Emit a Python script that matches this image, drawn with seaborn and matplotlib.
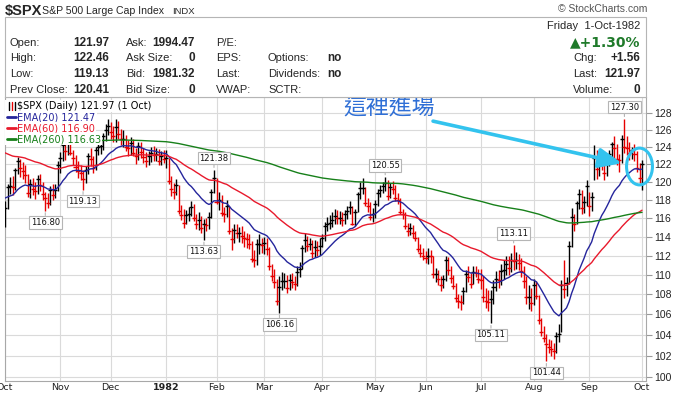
import numpy as np
import pandas as pd
import matplotlib
matplotlib.use("Agg")
import matplotlib.pyplot as plt
from matplotlib.path import Path
from matplotlib.transforms import Affine2D
from matplotlib.patches import Rectangle
from matplotlib.lines import Line2D
from matplotlib.ticker import FixedLocator, NullLocator, FuncFormatter
import seaborn as sns

# --- data ----------------------------------------------------------------
market_holidays = ["1981-11-26", "1981-12-25", "1982-01-01", "1982-02-15",
                   "1982-04-09", "1982-05-31", "1982-07-05", "1982-09-06"]

closes = [
    117.1, 119.4, 119.5, 119.4, 121.3, 122.3, 121.5, 121.2, 120.8, 118.8, 119.7, 119.2, 119.0, 120.3, 119.6, 118.6, 118.2, 117.6, 119.1, 118.5, 119.1, 121.9,  # Oct
    122.7, 124.2, 123.5, 124.8, 123.3, 122.7, 121.7, 121.2, 121.0, 120.3, 121.3, 122.9, 122.6, 121.6, 123.6, 124.0, 124.1, 125.2, 126.0, 126.4,  # Nov
    125.7, 125.2, 126.3, 125.5, 124.9, 124.9, 124.0, 123.8, 124.4, 123.3, 122.9, 124.1, 123.4, 122.8, 122.4, 122.9, 123.3, 123.0, 123.1, 122.3, 122.9, 122.6,  # Dec
    122.7, 120.1, 119.2, 118.9, 119.6, 116.8, 116.3, 115.5, 116.3, 116.4, 117.2, 116.0, 115.3, 115.8, 114.9, 115.4, 115.2, 116.1, 118.9, 120.4,  # Jan
    117.8, 118.0, 116.5, 116.4, 117.3, 114.6, 113.7, 114.7, 114.4, 114.4, 114.1, 113.8, 113.7, 113.2, 111.6, 111.5, 113.2, 113.2, 113.1,  # Feb
    113.3, 112.7, 110.9, 109.9, 109.3, 107.3, 108.8, 109.4, 109.4, 108.6, 109.5, 109.3, 109.1, 110.3, 110.6, 112.8, 113.6, 113.0, 113.2, 112.3, 112.9, 112.6, 113.0,  # Mar
    113.8, 115.1, 115.4, 115.5, 115.8, 116.2, 116.0, 116.0, 115.8, 116.4, 116.8, 117.2, 115.4, 116.7, 118.6, 119.3, 119.3, 117.6, 117.3, 116.1, 116.4,  # Apr
    117.5, 118.7, 119.1, 119.5, 119.9, 118.4, 119.4, 119.2, 118.2, 118.0, 116.7, 116.4, 115.1, 114.6, 114.9, 114.4, 113.9, 112.7, 112.3, 111.9,  # May
    111.7, 112.0, 111.9, 110.1, 110.1, 109.6, 109.0, 109.6, 111.5, 110.5, 109.7, 108.9, 107.6, 107.3, 107.2, 108.3, 110.1, 109.8, 109.1, 110.3, 110.2, 109.6,  # Jun
    109.5, 107.7, 107.3, 107.2, 107.5, 108.8, 109.6, 109.5, 110.4, 110.5, 111.1, 110.7, 111.5, 111.4, 111.5, 111.2, 110.4, 109.4, 107.7, 107.7, 107.1,  # Jul
    109.0, 107.8, 105.4, 104.3, 103.7, 103.1, 102.8, 102.6, 102.4, 103.9, 104.1, 109.0, 108.5, 109.2, 113.0, 116.1, 115.3, 117.6, 118.6, 117.1, 117.7, 119.5,  # Aug
    117.3, 118.3, 122.7, 121.4, 122.2, 122.0, 121.0, 122.2, 123.1, 124.3, 123.8, 122.6, 122.5, 124.9, 124.0, 123.8, 123.3, 123.6, 123.2, 121.6, 120.41,  # Sep
    121.97,  # 1 Oct
]
highs = [
    117.9, 119.8, 120.5, 120.6, 121.6, 122.8, 122.6, 122.2, 121.9, 120.9, 120.3, 120.4, 120.0, 120.8, 120.9, 120.0, 118.9, 118.7, 119.5, 119.8, 119.8, 122.3,
    123.4, 124.9, 124.8, 125.2, 125.0, 123.6, 123.0, 122.3, 121.9, 121.3, 121.8, 123.3, 123.9, 122.9, 124.0, 124.6, 124.9, 125.6, 126.7, 127.3,
    126.9, 126.4, 127.3, 127.0, 126.1, 125.9, 125.4, 124.8, 125.1, 124.9, 123.9, 124.5, 124.6, 123.9, 123.4, 123.5, 124.0, 124.1, 123.9, 123.7, 123.5, 123.6,
    123.6, 122.7, 120.6, 119.9, 120.3, 119.6, 117.4, 117.0, 116.9, 117.2, 117.9, 117.5, 116.4, 116.6, 116.2, 115.9, 116.0, 116.7, 119.2, 121.38,
    120.4, 118.9, 118.5, 117.2, 118.0, 117.3, 114.9, 115.3, 115.3, 115.0, 115.1, 114.6, 114.4, 114.3, 113.5, 112.6, 113.7, 114.3, 113.9,
    114.0, 113.9, 112.9, 111.1, 110.6, 109.6, 109.9, 110.3, 110.2, 110.0, 110.1, 110.2, 109.9, 110.9, 111.3, 113.1, 114.4, 114.1, 113.9, 113.6, 113.6, 113.5, 113.9,
    114.3, 115.6, 116.1, 116.3, 116.6, 117.0, 116.9, 116.8, 116.7, 116.9, 117.3, 117.9, 117.3, 117.0, 118.9, 120.0, 120.4, 119.4, 118.2, 117.8, 117.1,
    118.0, 119.2, 119.6, 120.0, 120.55, 120.2, 119.9, 120.1, 119.6, 118.7, 118.2, 117.0, 116.7, 115.5, 115.5, 115.2, 114.6, 114.0, 113.2, 112.8,
    112.5, 112.8, 112.6, 112.0, 110.7, 110.5, 109.9, 110.0, 111.9, 111.8, 110.9, 110.0, 109.2, 108.0, 107.9, 108.8, 110.5, 110.9, 110.2, 110.9, 110.9, 110.6,
    110.6, 109.9, 108.6, 108.4, 108.4, 109.5, 110.4, 110.5, 111.1, 111.5, 111.9, 111.9, 112.3, 113.11, 112.4, 112.2, 111.7, 110.9, 109.9, 109.0, 108.6,
    109.6, 109.4, 107.9, 105.6, 104.9, 104.1, 103.6, 103.5, 103.2, 104.3, 105.1, 109.5, 111.5, 109.8, 113.5, 117.1, 116.4, 117.9, 119.2, 119.1, 118.4, 120.2,
    118.9, 118.9, 124.2, 123.6, 122.8, 123.1, 122.6, 122.7, 123.6, 124.6, 125.3, 124.3, 123.1, 125.4, 127.30, 125.2, 124.5, 124.0, 124.3, 123.5, 122.1,
    122.46,
]
lows = [
    115.0, 117.0, 118.6, 118.5, 119.1, 120.9, 120.5, 120.3, 119.9, 118.3, 118.2, 118.5, 118.1, 118.6, 119.0, 118.0, 116.8, 117.1, 117.4, 118.0, 118.2, 119.0,
    121.0, 122.3, 122.5, 123.0, 123.0, 121.9, 121.1, 120.4, 120.2, 119.13, 119.9, 120.9, 121.8, 121.0, 121.3, 123.0, 123.2, 123.6, 124.7, 125.4,
    124.9, 124.5, 124.6, 124.9, 124.2, 124.0, 123.5, 122.9, 123.0, 122.9, 122.0, 122.5, 122.7, 122.1, 121.7, 121.9, 122.2, 122.4, 122.3, 121.9, 121.9, 122.1,
    121.5, 119.7, 118.4, 118.1, 118.5, 116.4, 115.8, 114.9, 115.3, 115.7, 116.2, 115.7, 114.8, 114.7, 114.4, 113.63, 114.6, 114.8, 116.0, 118.7,
    117.5, 116.9, 116.2, 115.6, 116.1, 114.3, 112.6, 113.3, 113.8, 113.4, 113.3, 112.9, 112.8, 112.7, 111.3, 110.8, 111.0, 112.2, 112.3,
    112.2, 112.1, 110.5, 109.4, 108.6, 106.9, 106.16, 108.4, 108.6, 108.1, 108.4, 108.7, 108.4, 108.9, 109.8, 110.6, 112.4, 112.5, 112.6, 111.7, 111.8, 111.9, 112.1,
    112.9, 113.5, 114.6, 114.8, 115.0, 115.4, 115.4, 115.4, 115.1, 115.4, 115.9, 116.4, 115.2, 115.1, 116.6, 118.1, 118.6, 117.3, 116.6, 115.8, 115.6,
    116.0, 117.3, 118.3, 118.7, 119.0, 118.0, 118.2, 118.6, 117.9, 117.5, 116.4, 115.9, 114.8, 114.1, 114.2, 113.9, 113.5, 112.4, 111.8, 111.5,
    111.2, 111.1, 111.2, 109.7, 109.3, 109.0, 108.3, 108.6, 109.4, 110.0, 109.2, 108.5, 107.2, 106.6, 106.4, 107.0, 108.2, 109.3, 108.7, 109.1, 109.8, 109.2,
    108.5, 107.2, 106.6, 106.3, 105.11, 107.0, 108.3, 108.7, 109.0, 109.6, 110.0, 110.0, 110.3, 110.5, 110.6, 110.5, 109.8, 108.7, 107.0, 106.5, 106.3,
    106.9, 107.5, 105.1, 103.9, 103.3, 101.44, 102.2, 102.0, 101.7, 102.2, 103.3, 104.3, 107.6, 107.8, 109.1, 112.9, 114.6, 115.3, 117.0, 116.4, 116.5, 117.3,
    116.2, 116.8, 120.2, 120.3, 120.7, 121.3, 120.2, 120.6, 121.8, 122.6, 122.6, 121.9, 121.1, 122.1, 123.3, 123.0, 122.5, 122.6, 122.4, 121.1, 119.9,
    119.13,
]

ema_spans = [20, 60, 260]
ema_seeds = [118.3, 123.5, 126.0]          # indicator levels at the left edge
ema_colors = ["#25259c", "#e8192c", "#17801a"]
legend_rows = ["$SPX (Daily) 121.97 (1 Oct)", "EMA(20) 121.47", "EMA(60) 116.90", "EMA(260) 116.63"]

# bars that carry a price call-out, and whether it marks a high or a low
callout_idx = [16, 31, 79, 83, 109, 151, 193, 202, 215, 246]
callout_kind = ["low", "low", "low", "high", "low", "high", "low", "high", "low", "high"]

y_ticks = list(range(100, 130, 2))
note_text = "這裡進場"

BAR_RED = "#e60000"
CYAN = "#33c3ee"

# --- figure --------------------------------------------------------------
sns.set_style("white")
plt.rcParams["font.family"] = ["DejaVu Sans"]

W, H = 673, 395
fig = plt.figure(figsize=(W / 100, H / 100), dpi=100)
ax = fig.add_axes([4.7 / W, 1 - 381 / H, 641 / W, 284 / H])


def fx(px):
    return px / W


def fy(py):
    return 1 - py / H


days = pd.bdate_range("1981-10-01", "1982-10-01", freq="C", holidays=market_holidays)
xs = np.arange(len(days))
c = np.array(closes)
prev = np.r_[c[0], c[:-1]]
bar_colors = np.where(c >= prev, "black", BAR_RED)

# OHLC bars (open prints equal the close in this old data, so each bar is a cross)
ax.vlines(xs, lows, highs, colors=bar_colors, lw=1.0, zorder=3)
ax.hlines(c, xs - 0.8, xs + 0.8, colors=bar_colors, lw=1.0, zorder=3)

for span, seed, color in zip(ema_spans, ema_seeds, ema_colors):
    ema = pd.Series([seed] + closes).ewm(span=span, adjust=False).mean().iloc[1:].to_numpy()
    sns.lineplot(x=xs, y=ema, ax=ax, color=color, lw=1.0, zorder=4)

ax.set_yscale("log")
ax.set_ylim(99.6, 129.9)
ax.set_xlim(-0.12, 254.45)
ax.set_xlabel("")
ax.set_ylabel("")

ax.yaxis.set_major_locator(FixedLocator(y_ticks))
ax.yaxis.set_minor_locator(NullLocator())
ax.yaxis.set_major_formatter(FuncFormatter(lambda v, p: f"{v:.0f}"))
ax.yaxis.tick_right()

month_first = pd.Series(xs, index=days).groupby(days.to_period("M")).first()
ax.set_xticks(month_first.to_numpy())
month_labels = [p.strftime("%b") if p.month != 1 else str(p.year) for p in month_first.index]
ax.set_xticklabels(month_labels)
for lab, p in zip(ax.get_xticklabels(), month_first.index):
    if p.month == 1:
        lab.set_fontweight("bold")

ax.grid(True, color="#dadada", lw=0.8)
ax.set_axisbelow(True)
ax.tick_params(axis="x", length=1.5, pad=0.3, labelsize=6.8, color="#999999", labelcolor="#222222")
ax.tick_params(axis="y", length=4, pad=2, labelsize=7, color="#999999", labelcolor="#222222")
for lab in ax.get_yticklabels():
    lab.set_fontfamily("Liberation Sans")
    lab.set_fontsize(7.5)
for s in ax.spines.values():
    s.set_color("#a8a8a8")
    s.set_linewidth(0.8)

# price call-outs
for i, kind in zip(callout_idx, callout_kind):
    val = highs[i] if kind == "high" else lows[i]
    dy = 8.3 if kind == "high" else -8.3
    ax.annotate(f"{val:.2f}", xy=(i, val), xytext=(0, dy), textcoords="offset points",
                ha="center", va="center", fontsize=6, color="#111111",
                bbox=dict(boxstyle="square,pad=0.22", fc="white", ec="#b5b5b5", lw=0.8),
                arrowprops=dict(arrowstyle="-", color="#b5b5b5", lw=0.8, shrinkA=0, shrinkB=1.5),
                zorder=6)

# legend rows with white backing
row_py = [106, 117, 128, 139]
for k, (txt, py) in enumerate(zip(legend_rows, row_py)):
    yf = (381 - py) / 284
    tcolor = "black" if k == 0 else ema_colors[k - 1]
    ax.add_patch(Rectangle((0, yf - 0.02), 0.025, 0.04, transform=ax.transAxes,
                           fc="white", ec="none", zorder=7))
    ax.text(0.0195, yf, txt, transform=ax.transAxes, fontsize=7, color=tcolor,
            va="center", ha="left", zorder=7,
            bbox=dict(boxstyle="square,pad=0.12", fc="white", ec="none"))
    if k == 0:
        for xo, col in [(0.006, "black"), (0.011, BAR_RED), (0.016, "black")]:
            ax.add_line(Line2D([xo, xo], [yf - 0.013, yf + 0.013], transform=ax.transAxes,
                               color=col, lw=1.0, zorder=8))
    else:
        ax.add_line(Line2D([0.0035, 0.0175], [yf, yf], transform=ax.transAxes,
                           color=ema_colors[k - 1], lw=2.0, zorder=8))

# hand-drawn style note: text, arrow and ring around the last bars
ax.text(152.5, 128.55, note_text, fontsize=16.5, color="#2f6fd6", ha="center", va="center",
        family=["Noto Sans CJK TC", "DejaVu Sans"], zorder=9, clip_on=False)
ax.annotate("", xy=(245.0, 122.1), xytext=(170.0, 127.0),
            arrowprops=dict(arrowstyle="-|>,head_length=1.4,head_width=0.6", mutation_scale=10,
                            lw=2.6, color=CYAN, shrinkA=0, shrinkB=0),
            zorder=9, annotation_clip=False)
ring = Path.unit_circle().transformed(Affine2D().scale(1.0, 1.42))
ax.plot([251.8], [121.8], marker=ring, markersize=26.5, mfc="none", mec=CYAN, mew=2.2,
        zorder=9, clip_on=False)

# --- header block --------------------------------------------------------
fig.add_artist(Rectangle((fx(4.7), fy(97)), fx(645.7) - fx(4.7), fy(17) - fy(97),
                         transform=fig.transFigure, fc="white", ec="#b5b5b5", lw=0.8))

hdr = dict(family=["Liberation Sans", "DejaVu Sans"], va="center")
fig.text(fx(5), fy(11.5), "$SPX", fontsize=10.5, fontweight="bold", **hdr)
fig.text(fx(41.5), fy(11), "S&P 500 Large Cap Index", fontsize=7.6, **hdr)
fig.text(fx(172), fy(11), "INDX", fontsize=6.8, **hdr)
fig.text(fx(647), fy(8.7), "\u00a9 StockCharts.com", fontsize=7.5, color="#555555", ha="right", **hdr)

rows_y = [42.5, 58.3, 74.2, 90]
col1 = [("Open:", "121.97"), ("High:", "122.46"), ("Low:", "119.13"), ("Prev Close:", "120.41")]
col2 = [("Ask:", "1994.47"), ("Ask Size:", "0"), ("Bid:", "1981.32"), ("Bid Size:", "0")]
col3 = ["P/E:", "EPS:", "Last:", "VWAP:"]
col4 = [("", ""), ("Options:", "no"), ("Dividends:", "no"), ("SCTR:", "")]
col5 = [("", ""), ("Chg:", "+1.56"), ("Last:", "121.97"), ("Volume:", "0")]

for py, (l1, v1), (l2, v2), l3, (l4, v4), (l5, v5) in zip(rows_y, col1, col2, col3, col4, col5):
    fig.text(fx(10), fy(py), l1, fontsize=8, **hdr)
    fig.text(fx(109), fy(py), v1, fontsize=8.5, fontweight="bold", ha="right", **hdr)
    fig.text(fx(126), fy(py), l2, fontsize=8, **hdr)
    fig.text(fx(195), fy(py), v2, fontsize=8.5, fontweight="bold", ha="right", **hdr)
    fig.text(fx(216), fy(py), l3, fontsize=8, **hdr)
    fig.text(fx(268), fy(py), l4, fontsize=8, **hdr)
    fig.text(fx(327.5), fy(py), v4, fontsize=8.5, fontweight="bold", **hdr)
    fig.text(fx(573), fy(py), l5, fontsize=8, **hdr)
    fig.text(fx(640), fy(py), v5, fontsize=8.5, fontweight="bold", ha="right", **hdr)

fig.text(fx(640), fy(25.7), "Friday  1-Oct-1982", fontsize=8, ha="right", **hdr)
fig.text(fx(640), fy(42), "\u25b2+1.30%", fontsize=10, fontweight="bold", color="#1f7a2a",
         ha="right", family=["DejaVu Sans"], va="center")

fig.savefig("out.png", dpi=100)
